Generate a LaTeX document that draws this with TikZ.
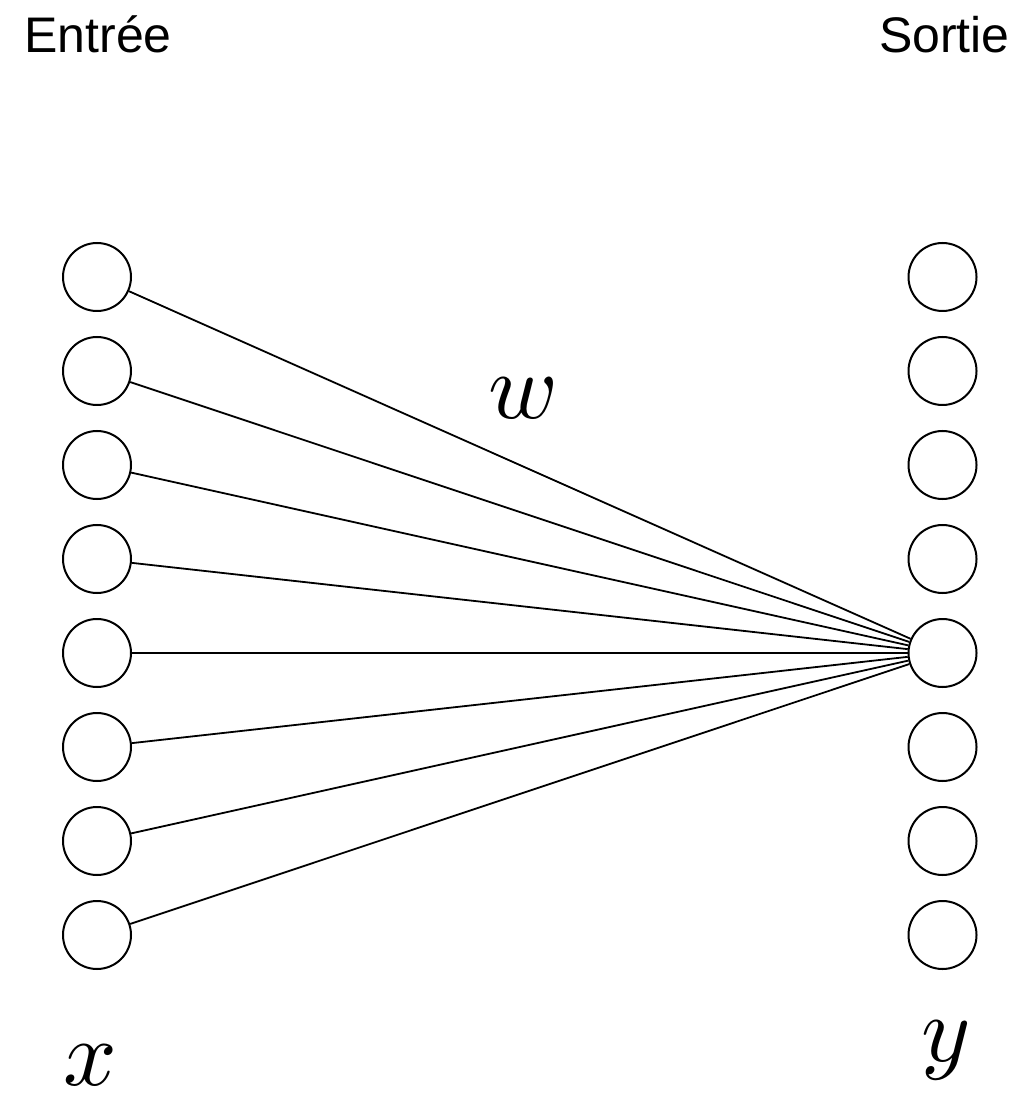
\documentclass[tikz,border=0pt]{standalone}
\usepackage{fontspec}
\setmainfont{Liberation Sans}
\begin{document}
\begin{tikzpicture}[x=0.5pt,y=-0.5pt,
  neuron/.style={circle,draw,line width=1pt,minimum size=34pt,inner sep=0pt},
  conn/.style={line width=0.9pt},
  title/.style={inner sep=0pt,font=\fontsize{25}{30}\selectfont},
  mathlbl/.style={inner sep=0pt,scale=4.7}]
\useasboundingbox (0,0) rectangle (1017,1095);
\foreach \i/\y in {1/277,2/371,3/465,4/559,5/653,6/747,7/841,8/935}{
  \node[neuron] (L\i) at (97,\y) {};
  \node[neuron] (R\i) at (942.5,\y) {};
}
\foreach \i in {1,...,8}{
  \draw[conn] (L\i) -- (R5);
}
\node[title,anchor=base west] (tin) at (24,53) {Entrée};
\node[title,anchor=base east] (tout) at (1010,53) {Sortie};
\node[mathlbl,anchor=base] (lw) at (523,419) {$w$};
\node[mathlbl,anchor=base] (lx) at (90,1085) {$x$};
\node[mathlbl,anchor=base] (ly) at (946,1061) {$y$};
\end{tikzpicture}
\end{document}
